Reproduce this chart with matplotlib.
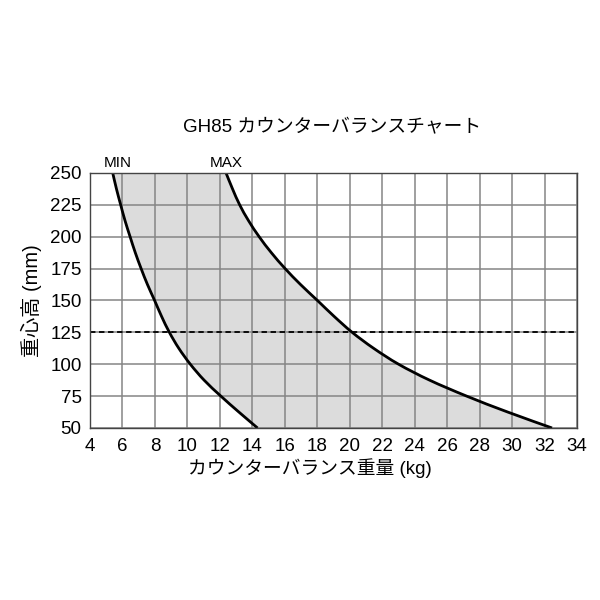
import matplotlib
matplotlib.use("Agg")
import matplotlib.pyplot as plt
from matplotlib.path import Path
from matplotlib.patches import PathPatch

# heights (mm) at which both curves were read
heights = [250, 237.5, 225, 212.5, 200, 187.5, 175, 162.5, 150,
           137.5, 125, 112.5, 100, 87.5, 75, 62.5, 50]
# counterbalance weight (kg), lower limit
min_kg = [5.40, 5.63, 5.89, 6.16, 6.47, 6.79, 7.15, 7.54, 7.98,
          8.41, 8.89, 9.47, 10.18, 11.03, 12.06, 13.17, 14.32]
# counterbalance weight (kg), upper limit
max_kg = [12.38, 12.78, 13.22, 13.77, 14.42, 15.17, 16.02, 16.97, 18.01,
          19.04, 20.15, 21.47, 23.01, 24.92, 27.20, 29.73, 32.46]

x_ticks = list(range(4, 35, 2))
y_ticks = [50, 75, 100, 125, 150, 175, 200, 225, 250]
ref_height = 125


def smooth(xs, ys):
    # catmull-rom through the read points, drawn as cubic bezier pieces
    pts = list(zip(xs, ys))
    n = len(pts)
    verts = [pts[0]]
    codes = [Path.MOVETO]
    for i in range(n - 1):
        p0 = pts[max(i - 1, 0)]
        p1 = pts[i]
        p2 = pts[i + 1]
        p3 = pts[min(i + 2, n - 1)]
        c1 = (p1[0] + (p2[0] - p0[0]) / 6, p1[1] + (p2[1] - p0[1]) / 6)
        c2 = (p2[0] - (p3[0] - p1[0]) / 6, p2[1] - (p3[1] - p1[1]) / 6)
        verts += [c1, c2, p2]
        codes += [Path.CURVE4] * 3
    return verts, codes


plt.rcParams['font.family'] = ['Liberation Sans', 'Noto Sans CJK JP', 'DejaVu Sans']

fig = plt.figure(figsize=(6, 6), dpi=100)
ax = fig.add_axes([0.15, 0.2867, 0.8117, 0.425])

v_min, c_min = smooth(min_kg, heights)
v_max, c_max = smooth(max_kg[::-1], heights[::-1])

# shaded band between the two limits
band = Path(v_min + v_max + [v_min[0]],
            c_min + [Path.LINETO] + c_max[1:] + [Path.CLOSEPOLY])
ax.add_patch(PathPatch(band, facecolor='#dcdcdc', edgecolor='none', zorder=1))

ax.add_patch(PathPatch(Path(v_min, c_min), facecolor='none', edgecolor='black', lw=2, zorder=3))
ax.add_patch(PathPatch(Path(v_max, c_max), facecolor='none', edgecolor='black', lw=2, zorder=3))
ax.axhline(ref_height, color='black', lw=1.3, ls=(0, (3, 2)), zorder=3)

ax.set_xlim(4, 34)
ax.set_ylim(50, 250)
ax.set_xticks(x_ticks)
ax.set_yticks(y_ticks)
ax.grid(True, color='#858585', lw=1.1, zorder=2)
ax.set_axisbelow(False)
ax.tick_params(axis='both', length=0, labelsize=13.5)
ax.tick_params(axis='x', pad=7)
ax.tick_params(axis='y', pad=6)
for s in ax.spines.values():
    s.set_color('#444444')
    s.set_linewidth(1)
    s.set_zorder(4)

ax.text(5.7, 252, 'MIN', fontsize=11, ha='center', va='bottom')
ax.text(12.4, 252, 'MAX', fontsize=11, ha='center', va='bottom')

fig.text(0.553, 0.787, 'GH85 カウンターバランスチャート', fontsize=13.5, ha='center', va='center')
ax.set_xlabel('カウンターバランス重量 (kg)', fontsize=13.5, labelpad=3)
ax.xaxis.set_label_coords((310 - 90) / 487, -0.12)
ax.set_ylabel('重心高 (mm)', fontsize=14.5, labelpad=6)

fig.savefig('out.png', dpi=100)
